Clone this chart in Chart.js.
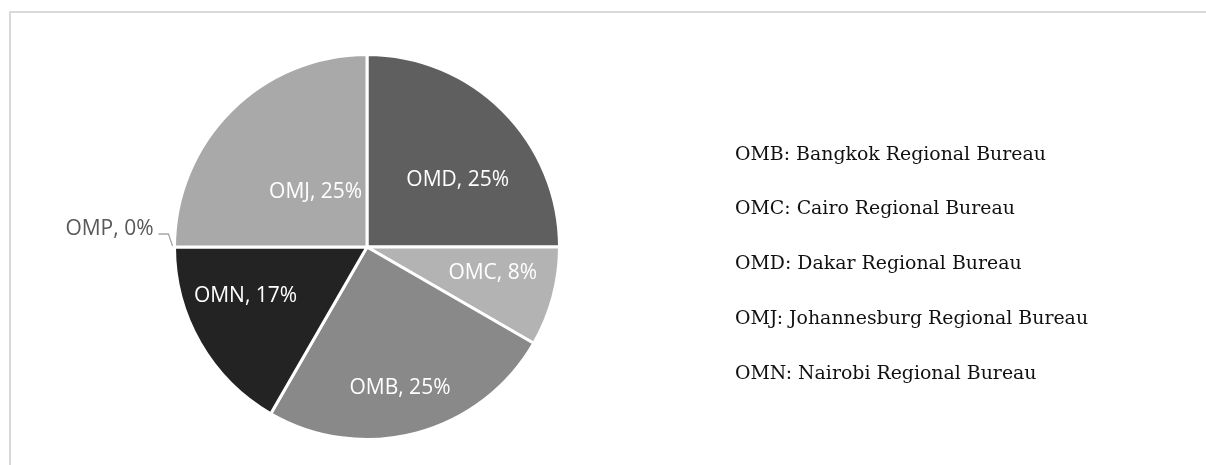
<!DOCTYPE html>
<html>
<head>
<meta charset="utf-8">
<script src="https://cdn.jsdelivr.net/npm/chart.js@4.4.1/dist/chart.umd.min.js"></script>
<style>
  html, body { margin: 0; padding: 0; background: #ffffff; overflow: hidden; }
  #wrap { position: relative; width: 1206px; height: 465px; }
  #frame { position: absolute; left: 9px; top: 11px; width: 1400px; height: 600px; border: 2px solid #d9d9d9; box-sizing: border-box; }
  #cv { position: absolute; left: 0; top: 0; }
  #legend { position: absolute; left: 735px; top: 125.6px; font-family: "DejaVu Serif", serif; font-size: 18.9px; color: #111; line-height: 54.75px; white-space: nowrap; }
</style>
</head>
<body>
<div id="wrap">
  <div id="frame"></div>
  <canvas id="cv" width="1206" height="465"></canvas>
  <div id="legend"></div>
</div>
<script>
// ---- data ----
const categories = ["OMD", "OMC", "OMB", "OMN", "OMP", "OMJ"];
const counts = [3, 1, 3, 2, 0, 3];
const sliceColors = ["#5f5f5f", "#b3b3b3", "#898989", "#232323", "#7a7a7a", "#a9a9a9"];
const legendCodes = ["OMB", "OMC", "OMD", "OMJ", "OMN"];
const legendNames = ["Bangkok Regional Bureau", "Cairo Regional Bureau", "Dakar Regional Bureau", "Johannesburg Regional Bureau", "Nairobi Regional Bureau"];

// label placement inside each slice: fraction along the slice's sweep, fraction of radius
const labelPlace = [
  { frac: 0.596, rf: 0.585 },
  { frac: 0.39, rf: 0.667 },
  { frac: 0.52, rf: 0.75 },
  { frac: 0.635, rf: 0.68 },
  { outside: true },
  { frac: 0.52, rf: 0.39 }
];

document.getElementById('legend').innerHTML =
  legendCodes.map((c, i) => '<div>' + c + ': ' + legendNames[i] + '</div>').join('');

const total = counts.reduce((a, b) => a + b, 0);

const sliceLabels = {
  id: 'sliceLabels',
  afterDatasetsDraw(chart) {
    const meta = chart.getDatasetMeta(0);
    const ctx = chart.ctx;
    ctx.save();
    ctx.font = '21px "Open Sans", sans-serif';
    ctx.textBaseline = 'middle';
    meta.data.forEach((arc, i) => {
      const p = arc.getProps(['x', 'y', 'startAngle', 'endAngle', 'outerRadius'], true);
      const pct = Math.round(counts[i] / total * 100);
      const text = categories[i] + ', ' + pct + '%';
      const pl = labelPlace[i];
      if (pl.outside) {
        const a = p.startAngle;
        const ex = p.x + Math.cos(a) * (p.outerRadius + 2);
        const ey = p.y + Math.sin(a) * (p.outerRadius + 2) - 1;
        ctx.strokeStyle = '#a6a6a6';
        ctx.lineWidth = 1.3;
        ctx.beginPath();
        ctx.moveTo(ex, ey);
        ctx.lineTo(ex - 4, ey - 12);
        ctx.lineTo(ex - 14, ey - 12);
        ctx.stroke();
        ctx.fillStyle = '#595959';
        ctx.textAlign = 'right';
        ctx.fillText(text, ex - 19, ey - 17);
      } else {
        const a = p.startAngle + (p.endAngle - p.startAngle) * pl.frac;
        const r = p.outerRadius * pl.rf;
        ctx.fillStyle = '#ffffff';
        ctx.textAlign = 'center';
        ctx.fillText(text, p.x + Math.cos(a) * r, p.y + Math.sin(a) * r);
      }
    });
    ctx.restore();
  }
};

new Chart(document.getElementById('cv'), {
  type: 'pie',
  data: {
    labels: categories,
    datasets: [{
      data: counts,
      backgroundColor: sliceColors,
      borderColor: '#ffffff',
      borderWidth: 3
    }]
  },
  options: {
    responsive: false,
    animation: false,
    layout: { padding: { left: 173, right: 645, top: 53, bottom: 24 } },
    plugins: {
      legend: { display: false },
      tooltip: { enabled: false }
    }
  },
  plugins: [sliceLabels]
});
</script>
</body>
</html>
